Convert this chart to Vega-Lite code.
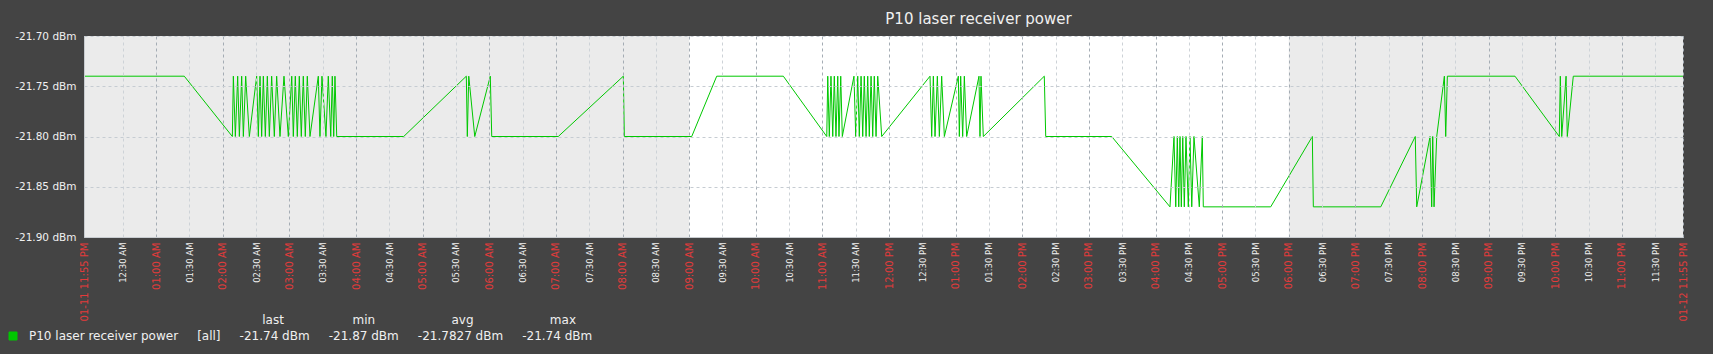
{
  "$schema": "https://vega.github.io/schema/vega-lite/v6.json",
  "width": 1599,
  "height": 201,
  "autosize": {"type": "none"},
  "padding": {"left": 84, "top": 36, "right": 30, "bottom": 117},
  "background": "#444444",
  "view": {"fill": "#ebebeb", "stroke": null},
  "config": {"font": "DejaVu Sans"},
  "title": {"text": "P10 laser receiver power", "font": "DejaVu Sans", "fontSize": 15, "fontWeight": "normal", "color": "#f0f0f0", "anchor": "middle", "dx": 95, "dy": 21, "offset": 13, "baseline": "alphabetic", "frame": "group"},
  "encoding": {
    "x": {
      "field": "t", "type": "temporal",
      "scale": {"domain": [{"year": 2024, "month": 1, "date": 11, "hours": 23, "minutes": 55}, {"year": 2024, "month": 1, "date": 12, "hours": 23, "minutes": 55}], "nice": false, "padding": 0},
      "axis": {
        "title": null,
        "values": [
          {"year": 2024, "month": 1, "date": 11, "hours": 23, "minutes": 55},
          {"year": 2024, "month": 1, "date": 12, "hours": 0, "minutes": 30},
          {"year": 2024, "month": 1, "date": 12, "hours": 1, "minutes": 0},
          {"year": 2024, "month": 1, "date": 12, "hours": 1, "minutes": 30},
          {"year": 2024, "month": 1, "date": 12, "hours": 2, "minutes": 0},
          {"year": 2024, "month": 1, "date": 12, "hours": 2, "minutes": 30},
          {"year": 2024, "month": 1, "date": 12, "hours": 3, "minutes": 0},
          {"year": 2024, "month": 1, "date": 12, "hours": 3, "minutes": 30},
          {"year": 2024, "month": 1, "date": 12, "hours": 4, "minutes": 0},
          {"year": 2024, "month": 1, "date": 12, "hours": 4, "minutes": 30},
          {"year": 2024, "month": 1, "date": 12, "hours": 5, "minutes": 0},
          {"year": 2024, "month": 1, "date": 12, "hours": 5, "minutes": 30},
          {"year": 2024, "month": 1, "date": 12, "hours": 6, "minutes": 0},
          {"year": 2024, "month": 1, "date": 12, "hours": 6, "minutes": 30},
          {"year": 2024, "month": 1, "date": 12, "hours": 7, "minutes": 0},
          {"year": 2024, "month": 1, "date": 12, "hours": 7, "minutes": 30},
          {"year": 2024, "month": 1, "date": 12, "hours": 8, "minutes": 0},
          {"year": 2024, "month": 1, "date": 12, "hours": 8, "minutes": 30},
          {"year": 2024, "month": 1, "date": 12, "hours": 9, "minutes": 0},
          {"year": 2024, "month": 1, "date": 12, "hours": 9, "minutes": 30},
          {"year": 2024, "month": 1, "date": 12, "hours": 10, "minutes": 0},
          {"year": 2024, "month": 1, "date": 12, "hours": 10, "minutes": 30},
          {"year": 2024, "month": 1, "date": 12, "hours": 11, "minutes": 0},
          {"year": 2024, "month": 1, "date": 12, "hours": 11, "minutes": 30},
          {"year": 2024, "month": 1, "date": 12, "hours": 12, "minutes": 0},
          {"year": 2024, "month": 1, "date": 12, "hours": 12, "minutes": 30},
          {"year": 2024, "month": 1, "date": 12, "hours": 13, "minutes": 0},
          {"year": 2024, "month": 1, "date": 12, "hours": 13, "minutes": 30},
          {"year": 2024, "month": 1, "date": 12, "hours": 14, "minutes": 0},
          {"year": 2024, "month": 1, "date": 12, "hours": 14, "minutes": 30},
          {"year": 2024, "month": 1, "date": 12, "hours": 15, "minutes": 0},
          {"year": 2024, "month": 1, "date": 12, "hours": 15, "minutes": 30},
          {"year": 2024, "month": 1, "date": 12, "hours": 16, "minutes": 0},
          {"year": 2024, "month": 1, "date": 12, "hours": 16, "minutes": 30},
          {"year": 2024, "month": 1, "date": 12, "hours": 17, "minutes": 0},
          {"year": 2024, "month": 1, "date": 12, "hours": 17, "minutes": 30},
          {"year": 2024, "month": 1, "date": 12, "hours": 18, "minutes": 0},
          {"year": 2024, "month": 1, "date": 12, "hours": 18, "minutes": 30},
          {"year": 2024, "month": 1, "date": 12, "hours": 19, "minutes": 0},
          {"year": 2024, "month": 1, "date": 12, "hours": 19, "minutes": 30},
          {"year": 2024, "month": 1, "date": 12, "hours": 20, "minutes": 0},
          {"year": 2024, "month": 1, "date": 12, "hours": 20, "minutes": 30},
          {"year": 2024, "month": 1, "date": 12, "hours": 21, "minutes": 0},
          {"year": 2024, "month": 1, "date": 12, "hours": 21, "minutes": 30},
          {"year": 2024, "month": 1, "date": 12, "hours": 22, "minutes": 0},
          {"year": 2024, "month": 1, "date": 12, "hours": 22, "minutes": 30},
          {"year": 2024, "month": 1, "date": 12, "hours": 23, "minutes": 0},
          {"year": 2024, "month": 1, "date": 12, "hours": 23, "minutes": 30},
          {"year": 2024, "month": 1, "date": 12, "hours": 23, "minutes": 55}
        ],
        "labelExpr": "minutes(datum.value) == 55 ? timeFormat(datum.value, '%m-%d %I:%M %p') : timeFormat(datum.value, '%I:%M %p')",
        "labelAngle": -90,
        "labelFont": "DejaVu Sans",
        "labelFontSize": {"condition": {"test": "minutes(datum.value) == 30", "value": 8.5}, "value": 10},
        "labelColor": {"condition": {"test": "minutes(datum.value) == 30", "value": "#f0f0f0"}, "value": "#e23b3b"},
        "labelPadding": 5,
        "labelOverlap": false,
        "labelFlush": false,
        "labelBound": false,
        "ticks": false,
        "domainColor": "#c8ccd0",
        "domainWidth": 1,
        "gridColor": {"condition": {"test": "minutes(datum.value) == 30", "value": "#cdd2d7"}, "value": "#a4acb4"},
        "gridDash": [3, 3],
        "gridWidth": 1,
        "zindex": 1
      }
    }
  },
  "layer": [
    {
      "data": {"values": [{"t": "2024-01-12T09:00:00", "t2": "2024-01-12T18:00:00"}]},
      "mark": {"type": "rect", "color": "#ffffff"},
      "encoding": {"x2": {"field": "t2"}}
    },
    {
      "data": {"values": [
        {"t": "2024-01-11T23:55:00", "v": -21.74},
        {"t": "2024-01-12T01:25:18", "v": -21.74},
        {"t": "2024-01-12T02:08:36", "v": -21.80},
        {"t": "2024-01-12T02:09:30", "v": -21.74},
        {"t": "2024-01-12T02:11:18", "v": -21.80},
        {"t": "2024-01-12T02:13:24", "v": -21.74},
        {"t": "2024-01-12T02:14:54", "v": -21.80},
        {"t": "2024-01-12T02:17:00", "v": -21.74},
        {"t": "2024-01-12T02:18:30", "v": -21.80},
        {"t": "2024-01-12T02:20:36", "v": -21.74},
        {"t": "2024-01-12T02:23:54", "v": -21.80},
        {"t": "2024-01-12T02:30:30", "v": -21.74},
        {"t": "2024-01-12T02:32:00", "v": -21.80},
        {"t": "2024-01-12T02:33:30", "v": -21.74},
        {"t": "2024-01-12T02:35:00", "v": -21.80},
        {"t": "2024-01-12T02:36:30", "v": -21.74},
        {"t": "2024-01-12T02:38:18", "v": -21.80},
        {"t": "2024-01-12T02:40:06", "v": -21.74},
        {"t": "2024-01-12T02:41:54", "v": -21.80},
        {"t": "2024-01-12T02:44:00", "v": -21.74},
        {"t": "2024-01-12T02:46:24", "v": -21.80},
        {"t": "2024-01-12T02:48:30", "v": -21.74},
        {"t": "2024-01-12T02:51:30", "v": -21.80},
        {"t": "2024-01-12T02:55:06", "v": -21.74},
        {"t": "2024-01-12T02:59:00", "v": -21.80},
        {"t": "2024-01-12T03:02:06", "v": -21.74},
        {"t": "2024-01-12T03:03:30", "v": -21.80},
        {"t": "2024-01-12T03:05:18", "v": -21.74},
        {"t": "2024-01-12T03:07:06", "v": -21.80},
        {"t": "2024-01-12T03:08:54", "v": -21.74},
        {"t": "2024-01-12T03:10:42", "v": -21.80},
        {"t": "2024-01-12T03:12:30", "v": -21.74},
        {"t": "2024-01-12T03:14:18", "v": -21.80},
        {"t": "2024-01-12T03:16:06", "v": -21.74},
        {"t": "2024-01-12T03:18:30", "v": -21.80},
        {"t": "2024-01-12T03:26:00", "v": -21.74},
        {"t": "2024-01-12T03:27:30", "v": -21.80},
        {"t": "2024-01-12T03:29:18", "v": -21.74},
        {"t": "2024-01-12T03:32:54", "v": -21.80},
        {"t": "2024-01-12T03:35:00", "v": -21.74},
        {"t": "2024-01-12T03:37:12", "v": -21.80},
        {"t": "2024-01-12T03:38:36", "v": -21.74},
        {"t": "2024-01-12T03:39:54", "v": -21.80},
        {"t": "2024-01-12T03:41:00", "v": -21.74},
        {"t": "2024-01-12T03:42:36", "v": -21.80},
        {"t": "2024-01-12T04:42:54", "v": -21.80},
        {"t": "2024-01-12T05:39:18", "v": -21.74},
        {"t": "2024-01-12T05:40:12", "v": -21.80},
        {"t": "2024-01-12T05:41:30", "v": -21.74},
        {"t": "2024-01-12T05:46:54", "v": -21.80},
        {"t": "2024-01-12T06:00:54", "v": -21.74},
        {"t": "2024-01-12T06:02:12", "v": -21.80},
        {"t": "2024-01-12T07:02:06", "v": -21.80},
        {"t": "2024-01-12T08:00:42", "v": -21.74},
        {"t": "2024-01-12T08:01:36", "v": -21.80},
        {"t": "2024-01-12T09:02:18", "v": -21.80},
        {"t": "2024-01-12T09:24:48", "v": -21.74},
        {"t": "2024-01-12T10:24:48", "v": -21.74},
        {"t": "2024-01-12T11:03:54", "v": -21.80},
        {"t": "2024-01-12T11:04:48", "v": -21.74},
        {"t": "2024-01-12T11:06:12", "v": -21.80},
        {"t": "2024-01-12T11:07:42", "v": -21.74},
        {"t": "2024-01-12T11:09:18", "v": -21.80},
        {"t": "2024-01-12T11:10:42", "v": -21.74},
        {"t": "2024-01-12T11:12:12", "v": -21.80},
        {"t": "2024-01-12T11:13:48", "v": -21.74},
        {"t": "2024-01-12T11:14:54", "v": -21.80},
        {"t": "2024-01-12T11:16:30", "v": -21.74},
        {"t": "2024-01-12T11:17:54", "v": -21.80},
        {"t": "2024-01-12T11:28:24", "v": -21.74},
        {"t": "2024-01-12T11:30:00", "v": -21.80},
        {"t": "2024-01-12T11:31:48", "v": -21.74},
        {"t": "2024-01-12T11:33:12", "v": -21.80},
        {"t": "2024-01-12T11:34:48", "v": -21.74},
        {"t": "2024-01-12T11:36:18", "v": -21.80},
        {"t": "2024-01-12T11:37:42", "v": -21.74},
        {"t": "2024-01-12T11:39:18", "v": -21.80},
        {"t": "2024-01-12T11:40:48", "v": -21.74},
        {"t": "2024-01-12T11:42:12", "v": -21.80},
        {"t": "2024-01-12T11:43:48", "v": -21.74},
        {"t": "2024-01-12T11:45:18", "v": -21.80},
        {"t": "2024-01-12T11:46:42", "v": -21.74},
        {"t": "2024-01-12T11:48:18", "v": -21.80},
        {"t": "2024-01-12T11:49:48", "v": -21.74},
        {"t": "2024-01-12T11:53:24", "v": -21.80},
        {"t": "2024-01-12T12:36:54", "v": -21.74},
        {"t": "2024-01-12T12:38:24", "v": -21.80},
        {"t": "2024-01-12T12:39:54", "v": -21.74},
        {"t": "2024-01-12T12:41:24", "v": -21.80},
        {"t": "2024-01-12T12:43:30", "v": -21.74},
        {"t": "2024-01-12T12:45:18", "v": -21.80},
        {"t": "2024-01-12T12:47:24", "v": -21.74},
        {"t": "2024-01-12T12:49:48", "v": -21.80},
        {"t": "2024-01-12T13:02:24", "v": -21.74},
        {"t": "2024-01-12T13:03:18", "v": -21.80},
        {"t": "2024-01-12T13:04:30", "v": -21.74},
        {"t": "2024-01-12T13:06:18", "v": -21.80},
        {"t": "2024-01-12T13:07:48", "v": -21.74},
        {"t": "2024-01-12T13:09:54", "v": -21.80},
        {"t": "2024-01-12T13:21:00", "v": -21.74},
        {"t": "2024-01-12T13:21:54", "v": -21.80},
        {"t": "2024-01-12T13:22:48", "v": -21.74},
        {"t": "2024-01-12T13:24:54", "v": -21.80},
        {"t": "2024-01-12T14:19:48", "v": -21.74},
        {"t": "2024-01-12T14:21:06", "v": -21.80},
        {"t": "2024-01-12T15:20:30", "v": -21.80},
        {"t": "2024-01-12T16:13:00", "v": -21.87},
        {"t": "2024-01-12T16:16:36", "v": -21.80},
        {"t": "2024-01-12T16:18:12", "v": -21.87},
        {"t": "2024-01-12T16:19:36", "v": -21.80},
        {"t": "2024-01-12T16:20:54", "v": -21.87},
        {"t": "2024-01-12T16:22:00", "v": -21.80},
        {"t": "2024-01-12T16:23:12", "v": -21.87},
        {"t": "2024-01-12T16:24:30", "v": -21.80},
        {"t": "2024-01-12T16:25:54", "v": -21.87},
        {"t": "2024-01-12T16:27:24", "v": -21.80},
        {"t": "2024-01-12T16:29:30", "v": -21.87},
        {"t": "2024-01-12T16:31:00", "v": -21.80},
        {"t": "2024-01-12T16:32:36", "v": -21.87},
        {"t": "2024-01-12T16:34:36", "v": -21.80},
        {"t": "2024-01-12T16:39:24", "v": -21.87},
        {"t": "2024-01-12T16:42:06", "v": -21.80},
        {"t": "2024-01-12T16:43:00", "v": -21.87},
        {"t": "2024-01-12T17:43:42", "v": -21.87},
        {"t": "2024-01-12T18:21:12", "v": -21.80},
        {"t": "2024-01-12T18:22:06", "v": -21.87},
        {"t": "2024-01-12T19:22:48", "v": -21.87},
        {"t": "2024-01-12T19:53:54", "v": -21.80},
        {"t": "2024-01-12T19:55:12", "v": -21.87},
        {"t": "2024-01-12T20:07:12", "v": -21.80},
        {"t": "2024-01-12T20:08:42", "v": -21.87},
        {"t": "2024-01-12T20:09:36", "v": -21.80},
        {"t": "2024-01-12T20:10:48", "v": -21.87},
        {"t": "2024-01-12T20:13:12", "v": -21.80},
        {"t": "2024-01-12T20:20:06", "v": -21.74},
        {"t": "2024-01-12T20:21:18", "v": -21.80},
        {"t": "2024-01-12T20:22:48", "v": -21.74},
        {"t": "2024-01-12T21:23:42", "v": -21.74},
        {"t": "2024-01-12T22:03:36", "v": -21.80},
        {"t": "2024-01-12T22:04:30", "v": -21.74},
        {"t": "2024-01-12T22:05:48", "v": -21.80},
        {"t": "2024-01-12T22:09:42", "v": -21.74},
        {"t": "2024-01-12T22:10:48", "v": -21.80},
        {"t": "2024-01-12T22:16:12", "v": -21.74},
        {"t": "2024-01-12T23:55:00", "v": -21.74}
      ]},
      "mark": {"type": "line", "strokeWidth": 1, "color": "#00c800", "clip": true},
      "encoding": {
        "y": {
          "field": "v", "type": "quantitative",
          "scale": {"domain": [-21.9, -21.7], "nice": false, "zero": false},
          "axis": {
            "title": null,
            "values": [-21.9, -21.85, -21.8, -21.75, -21.7],
            "labelExpr": "'-' + format(abs(datum.value), '.2f') + ' dBm'",
            "labelFont": "DejaVu Sans",
            "labelFontSize": 10.5,
            "labelColor": "#f0f0f0",
            "labelPadding": 8,
            "labelOverlap": false,
            "labelFlush": false,
            "labelBound": false,
            "ticks": false,
            "domainColor": "#c8ccd0",
            "domainWidth": 1,
            "gridColor": "#c6ccd2",
            "gridDash": [3, 3],
            "gridWidth": 1,
            "zindex": 1
          }
        },
        "color": {
          "datum": "P10 laser receiver power",
          "type": "nominal",
          "scale": {"range": ["#00c800"]},
          "legend": {
            "orient": "none",
            "legendX": -77,
            "legendY": 279,
            "padding": 0,
            "title": "last\u00a0\u00a0\u00a0\u00a0\u00a0\u00a0\u00a0\u00a0\u00a0\u00a0\u00a0\u00a0\u00a0\u00a0\u00a0\u00a0\u00a0\u00a0min\u00a0\u00a0\u00a0\u00a0\u00a0\u00a0\u00a0\u00a0\u00a0\u00a0\u00a0\u00a0\u00a0\u00a0\u00a0\u00a0\u00a0\u00a0\u00a0\u00a0avg\u00a0\u00a0\u00a0\u00a0\u00a0\u00a0\u00a0\u00a0\u00a0\u00a0\u00a0\u00a0\u00a0\u00a0\u00a0\u00a0\u00a0\u00a0\u00a0\u00a0max",
            "titleAnchor": "end",
            "titleFont": "DejaVu Sans",
            "titleFontSize": 12,
            "titleFontWeight": "normal",
            "titleColor": "#f0f0f0",
            "titlePadding": 3,
            "titleLimit": 2000,
            "labelFont": "DejaVu Sans",
            "labelFontSize": 12,
            "labelColor": "#f0f0f0",
            "labelLimit": 2000,
            "labelOffset": 10,
            "labelExpr": "datum.label + '\u00a0\u00a0\u00a0\u00a0\u00a0[all]\u00a0\u00a0\u00a0\u00a0\u00a0-21.74 dBm\u00a0\u00a0\u00a0\u00a0\u00a0-21.87 dBm\u00a0\u00a0\u00a0\u00a0\u00a0-21.7827 dBm\u00a0\u00a0\u00a0\u00a0\u00a0-21.74 dBm'",
            "symbolType": "square",
            "symbolSize": 64,
            "symbolFillColor": "#00c800",
            "symbolStrokeColor": "#0b5d0b",
            "symbolStrokeWidth": 1,
            "symbolOpacity": 1,
            "encode": {"title": {"update": {"dx": {"value": -16}}}}
          }
        }
      }
    }
  ]
}
